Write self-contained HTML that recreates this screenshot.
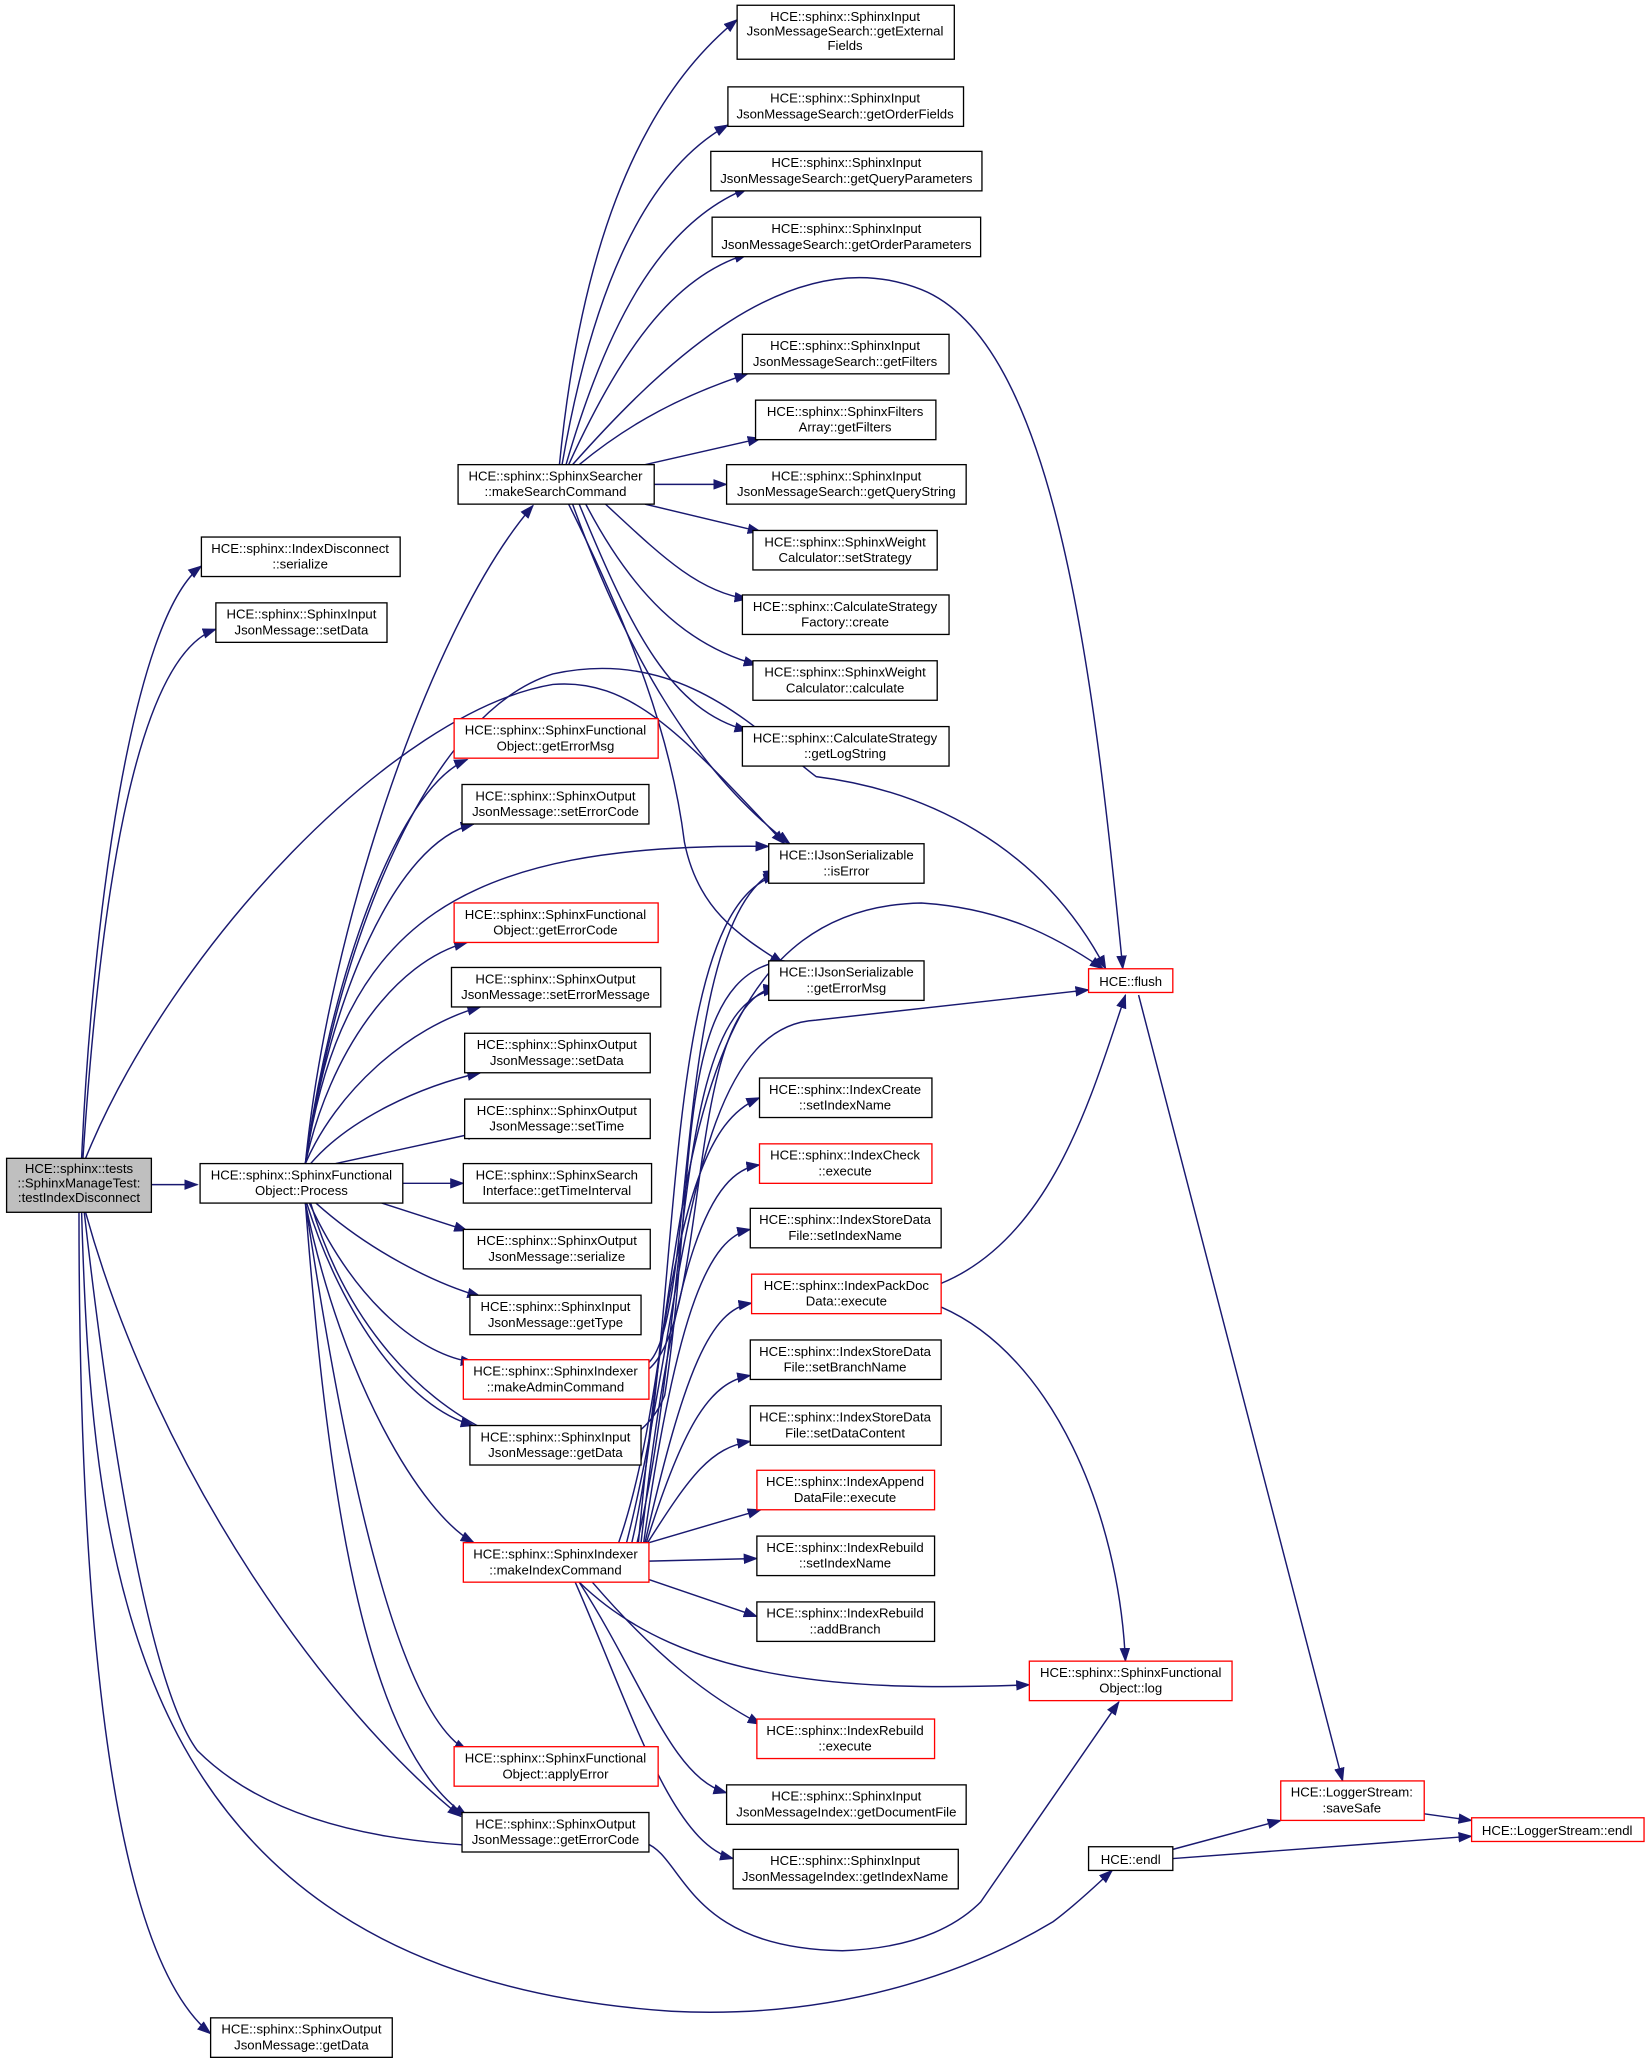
<!DOCTYPE html>
<html><head><meta charset="utf-8"><style>
html,body{margin:0;padding:0;background:#fff}
svg{display:block}
text{font-family:"Liberation Sans",Arial,sans-serif;font-size:10px;fill:#000}
.e{fill:none;stroke:#191970;stroke-width:1.1;marker-end:url(#a)}
.n{fill:#fff;stroke:#000;stroke-width:1}
.r{fill:#fff;stroke:#ff0000;stroke-width:1}
</style></head><body>
<svg width="1648" height="2063" viewBox="0 0 1252 1567.3" xmlns="http://www.w3.org/2000/svg">
<defs><marker id="a" markerWidth="11" markerHeight="8" refX="10" refY="4" orient="auto" markerUnits="userSpaceOnUse"><path d="M0,0 L11,4 L0,8 z" fill="#191970"/></marker></defs>
<g>
<path class="e" d="M115,900 L150,900"/>
<path class="e" d="M62,880 C70,700 100,470 153,430"/>
<path class="e" d="M63,880 C75,700 100,500 164,478"/>
<path class="e" d="M65,880 C130,720 300,540 420,520 C480,515 520,560 596,641"/>
<path class="e" d="M65,921 C120,1120 250,1300 350,1380"/>
<path class="e" d="M64,921 C90,1150 120,1290 150,1330 C220,1400 350,1410 490,1400 C520,1410 520,1480 640,1482 C700,1480 730,1460 745,1445 L850,1293"/>
<path class="e" d="M62,921 C70,1200 100,1500 510,1528 C650,1535 750,1490 800,1460 C820,1445 835,1430 845,1421"/>
<path class="e" d="M60,921 C60,1200 80,1480 160,1545"/>
<path class="e" d="M232,884 C250,700 330,470 405,384"/>
<path class="e" d="M232,884 C250,750 300,600 355,577"/>
<path class="e" d="M232,884 C250,760 300,640 360,626"/>
<path class="e" d="M232,884 C260,700 350,640 584,643"/>
<path class="e" d="M232,884 C250,800 300,730 355,716"/>
<path class="e" d="M232,884 C255,830 310,780 365,765"/>
<path class="e" d="M236,884 C265,850 320,825 365,815"/>
<path class="e" d="M255,884 L365,860"/>
<path class="e" d="M306,899 L352,899"/>
<path class="e" d="M290,914 L355,935"/>
<path class="e" d="M240,914 C280,950 330,975 365,985"/>
<path class="e" d="M235,914 C270,990 320,1030 360,1035"/>
<path class="e" d="M233,914 C260,1000 310,1070 360,1083"/>
<path class="e" d="M232,914 C260,1050 320,1150 360,1172"/>
<path class="e" d="M232,914 C260,1100 300,1300 355,1330"/>
<path class="e" d="M232,914 C250,1150 280,1330 355,1380"/>
<path class="e" d="M232,884 C260,700 330,540 420,512 C520,490 580,560 620,590 C700,600 790,640 840,736"/>
<path class="e" d="M236,914 C290,1100 470,1150 505,1060 C530,900 510,740 596,730"/>
<path class="e" d="M425,353 C440,200 480,80 560,15"/>
<path class="e" d="M427,353 C450,220 490,130 553,95"/>
<path class="e" d="M430,353 C460,250 500,170 568,143"/>
<path class="e" d="M432,353 C470,270 510,210 568,193"/>
<path class="e" d="M435,353 C500,280 600,180 700,220 C800,260 830,500 853,736"/>
<path class="e" d="M440,353 C480,320 520,300 568,284"/>
<path class="e" d="M490,353 L578,333"/>
<path class="e" d="M497,368 L552,368"/>
<path class="e" d="M490,383 L578,404"/>
<path class="e" d="M460,383 C500,420 530,450 568,455"/>
<path class="e" d="M445,383 C480,450 520,490 575,505"/>
<path class="e" d="M440,383 C480,480 510,540 568,555"/>
<path class="e" d="M435,383 C470,480 520,580 600,641"/>
<path class="e" d="M432,383 C480,480 510,560 520,640 C530,690 560,710 595,732"/>
<path class="e" d="M493,1035 C530,1000 510,700 590,661"/>
<path class="e" d="M493,1040 C540,1000 520,760 590,750"/>
<path class="e" d="M480,1172 C520,1000 500,690 590,665"/>
<path class="e" d="M484,1172 C525,1000 510,760 590,752"/>
<path class="e" d="M470,1172 C530,1000 490,690 700,686 C760,690 800,710 838,736"/>
<path class="e" d="M476,1172 C520,1000 520,780 620,775 L827,752"/>
<path class="e" d="M485,1172 C510,900 540,850 577,834"/>
<path class="e" d="M487,1172 C512,950 540,890 577,885"/>
<path class="e" d="M489,1172 C515,990 540,940 570,934"/>
<path class="e" d="M490,1172 C520,1040 540,995 571,990"/>
<path class="e" d="M491,1172 C520,1080 540,1050 570,1045"/>
<path class="e" d="M492,1172 C525,1120 540,1100 570,1095"/>
<path class="e" d="M493,1172 L578,1147"/>
<path class="e" d="M493,1186 L575,1184"/>
<path class="e" d="M493,1200 L575,1228"/>
<path class="e" d="M440,1202 C520,1280 650,1285 782,1280"/>
<path class="e" d="M450,1202 C500,1260 540,1290 578,1310"/>
<path class="e" d="M440,1202 C490,1280 510,1350 552,1362"/>
<path class="e" d="M437,1202 C480,1300 510,1400 557,1412"/>
<path class="e" d="M715,975 C800,940 830,830 855,756"/>
<path class="e" d="M715,993 C800,1030 850,1150 855,1262"/>
<path class="e" d="M865,756 L1020,1353"/>
<path class="e" d="M1082,1378 L1118,1383"/>
<path class="e" d="M891,1405 L973,1383"/>
<path class="e" d="M891,1412 L1118,1395"/>
</g>
<g>
<rect x="5" y="880" width="110" height="41" fill="#bfbfbf" stroke="#000"/>
<text x="60" y="891" text-anchor="middle">HCE::sphinx::tests</text><text x="60" y="902" text-anchor="middle">::SphinxManageTest:</text><text x="60" y="913" text-anchor="middle">:testIndexDisconnect</text>
</g>
<g text-anchor="middle">
<rect class="n" x="152" y="884" width="154" height="30"/><text x="229" y="896">HCE::sphinx::SphinxFunctional</text><text x="229" y="908">Object::Process</text>
<rect class="n" x="153" y="408" width="151" height="30"/><text x="228" y="420">HCE::sphinx::IndexDisconnect</text><text x="228" y="432">::serialize</text>
<rect class="n" x="164" y="458" width="130" height="30"/><text x="229" y="470">HCE::sphinx::SphinxInput</text><text x="229" y="482">JsonMessage::setData</text>
<rect class="n" x="160" y="1533" width="138" height="30"/><text x="229" y="1545">HCE::sphinx::SphinxOutput</text><text x="229" y="1557">JsonMessage::getData</text>
<rect class="n" x="348" y="353" width="149" height="30"/><text x="422" y="365">HCE::sphinx::SphinxSearcher</text><text x="422" y="377">::makeSearchCommand</text>
<rect class="n" x="560" y="4" width="165" height="41"/><text x="642" y="16">HCE::sphinx::SphinxInput</text><text x="642" y="27">JsonMessageSearch::getExternal</text><text x="642" y="38">Fields</text>
<rect class="n" x="553" y="66" width="179" height="30"/><text x="642" y="78">HCE::sphinx::SphinxInput</text><text x="642" y="90">JsonMessageSearch::getOrderFields</text>
<rect class="n" x="540" y="115" width="206" height="30"/><text x="643" y="127">HCE::sphinx::SphinxInput</text><text x="643" y="139">JsonMessageSearch::getQueryParameters</text>
<rect class="n" x="541" y="165" width="204" height="30"/><text x="643" y="177">HCE::sphinx::SphinxInput</text><text x="643" y="189">JsonMessageSearch::getOrderParameters</text>
<rect class="n" x="564" y="254" width="157" height="30"/><text x="642" y="266">HCE::sphinx::SphinxInput</text><text x="642" y="278">JsonMessageSearch::getFilters</text>
<rect class="n" x="574" y="304" width="137" height="30"/><text x="642" y="316">HCE::sphinx::SphinxFilters</text><text x="642" y="328">Array::getFilters</text>
<rect class="n" x="552" y="353" width="182" height="30"/><text x="643" y="365">HCE::sphinx::SphinxInput</text><text x="643" y="377">JsonMessageSearch::getQueryString</text>
<rect class="n" x="572" y="403" width="140" height="30"/><text x="642" y="415">HCE::sphinx::SphinxWeight</text><text x="642" y="427">Calculator::setStrategy</text>
<rect class="n" x="564" y="452" width="157" height="30"/><text x="642" y="464">HCE::sphinx::CalculateStrategy</text><text x="642" y="476">Factory::create</text>
<rect class="n" x="572" y="502" width="140" height="30"/><text x="642" y="514">HCE::sphinx::SphinxWeight</text><text x="642" y="526">Calculator::calculate</text>
<rect class="n" x="564" y="552" width="157" height="30"/><text x="642" y="564">HCE::sphinx::CalculateStrategy</text><text x="642" y="576">::getLogString</text>
<rect class="r" x="345" y="546" width="155" height="30"/><text x="422" y="558">HCE::sphinx::SphinxFunctional</text><text x="422" y="570">Object::getErrorMsg</text>
<rect class="n" x="351" y="596" width="142" height="30"/><text x="422" y="608">HCE::sphinx::SphinxOutput</text><text x="422" y="620">JsonMessage::setErrorCode</text>
<rect class="n" x="584" y="641" width="118" height="30"/><text x="643" y="653">HCE::IJsonSerializable</text><text x="643" y="665">::isError</text>
<rect class="r" x="345" y="686" width="155" height="30"/><text x="422" y="698">HCE::sphinx::SphinxFunctional</text><text x="422" y="710">Object::getErrorCode</text>
<rect class="n" x="343" y="735" width="159" height="30"/><text x="422" y="747">HCE::sphinx::SphinxOutput</text><text x="422" y="759">JsonMessage::setErrorMessage</text>
<rect class="n" x="584" y="730" width="118" height="30"/><text x="643" y="742">HCE::IJsonSerializable</text><text x="643" y="754">::getErrorMsg</text>
<rect class="r" x="827" y="736" width="64" height="18"/><text x="859" y="749">HCE::flush</text>
<rect class="n" x="353" y="785" width="141" height="30"/><text x="423" y="797">HCE::sphinx::SphinxOutput</text><text x="423" y="809">JsonMessage::setData</text>
<rect class="n" x="353" y="835" width="141" height="30"/><text x="423" y="847">HCE::sphinx::SphinxOutput</text><text x="423" y="859">JsonMessage::setTime</text>
<rect class="n" x="352" y="884" width="143" height="30"/><text x="423" y="896">HCE::sphinx::SphinxSearch</text><text x="423" y="908">Interface::getTimeInterval</text>
<rect class="n" x="352" y="934" width="142" height="30"/><text x="423" y="946">HCE::sphinx::SphinxOutput</text><text x="423" y="958">JsonMessage::serialize</text>
<rect class="n" x="357" y="984" width="130" height="30"/><text x="422" y="996">HCE::sphinx::SphinxInput</text><text x="422" y="1008">JsonMessage::getType</text>
<rect class="r" x="352" y="1033" width="141" height="30"/><text x="422" y="1045">HCE::sphinx::SphinxIndexer</text><text x="422" y="1057">::makeAdminCommand</text>
<rect class="n" x="357" y="1083" width="130" height="30"/><text x="422" y="1095">HCE::sphinx::SphinxInput</text><text x="422" y="1107">JsonMessage::getData</text>
<rect class="r" x="352" y="1172" width="141" height="30"/><text x="422" y="1184">HCE::sphinx::SphinxIndexer</text><text x="422" y="1196">::makeIndexCommand</text>
<rect class="r" x="345" y="1327" width="155" height="30"/><text x="422" y="1339">HCE::sphinx::SphinxFunctional</text><text x="422" y="1351">Object::applyError</text>
<rect class="n" x="351" y="1377" width="142" height="30"/><text x="422" y="1389">HCE::sphinx::SphinxOutput</text><text x="422" y="1401">JsonMessage::getErrorCode</text>
<rect class="n" x="577" y="819" width="131" height="30"/><text x="642" y="831">HCE::sphinx::IndexCreate</text><text x="642" y="843">::setIndexName</text>
<rect class="r" x="577" y="869" width="131" height="30"/><text x="642" y="881">HCE::sphinx::IndexCheck</text><text x="642" y="893">::execute</text>
<rect class="n" x="570" y="918" width="145" height="30"/><text x="642" y="930">HCE::sphinx::IndexStoreData</text><text x="642" y="942">File::setIndexName</text>
<rect class="r" x="571" y="968" width="144" height="30"/><text x="643" y="980">HCE::sphinx::IndexPackDoc</text><text x="643" y="992">Data::execute</text>
<rect class="n" x="570" y="1018" width="145" height="30"/><text x="642" y="1030">HCE::sphinx::IndexStoreData</text><text x="642" y="1042">File::setBranchName</text>
<rect class="n" x="570" y="1068" width="145" height="30"/><text x="642" y="1080">HCE::sphinx::IndexStoreData</text><text x="642" y="1092">File::setDataContent</text>
<rect class="r" x="575" y="1117" width="135" height="30"/><text x="642" y="1129">HCE::sphinx::IndexAppend</text><text x="642" y="1141">DataFile::execute</text>
<rect class="n" x="575" y="1167" width="135" height="30"/><text x="642" y="1179">HCE::sphinx::IndexRebuild</text><text x="642" y="1191">::setIndexName</text>
<rect class="n" x="575" y="1217" width="135" height="30"/><text x="642" y="1229">HCE::sphinx::IndexRebuild</text><text x="642" y="1241">::addBranch</text>
<rect class="r" x="782" y="1262" width="154" height="30"/><text x="859" y="1274">HCE::sphinx::SphinxFunctional</text><text x="859" y="1286">Object::log</text>
<rect class="r" x="575" y="1306" width="135" height="30"/><text x="642" y="1318">HCE::sphinx::IndexRebuild</text><text x="642" y="1330">::execute</text>
<rect class="n" x="552" y="1356" width="182" height="30"/><text x="643" y="1368">HCE::sphinx::SphinxInput</text><text x="643" y="1380">JsonMessageIndex::getDocumentFile</text>
<rect class="n" x="557" y="1405" width="171" height="30"/><text x="642" y="1417">HCE::sphinx::SphinxInput</text><text x="642" y="1429">JsonMessageIndex::getIndexName</text>
<rect class="r" x="973" y="1353" width="109" height="30"/><text x="1027" y="1365">HCE::LoggerStream:</text><text x="1027" y="1377">:saveSafe</text>
<rect class="r" x="1118" y="1381" width="131" height="18"/><text x="1183" y="1394">HCE::LoggerStream::endl</text>
<rect class="n" x="827" y="1403" width="64" height="18"/><text x="859" y="1416">HCE::endl</text>
</g>
</svg>
</body></html>
